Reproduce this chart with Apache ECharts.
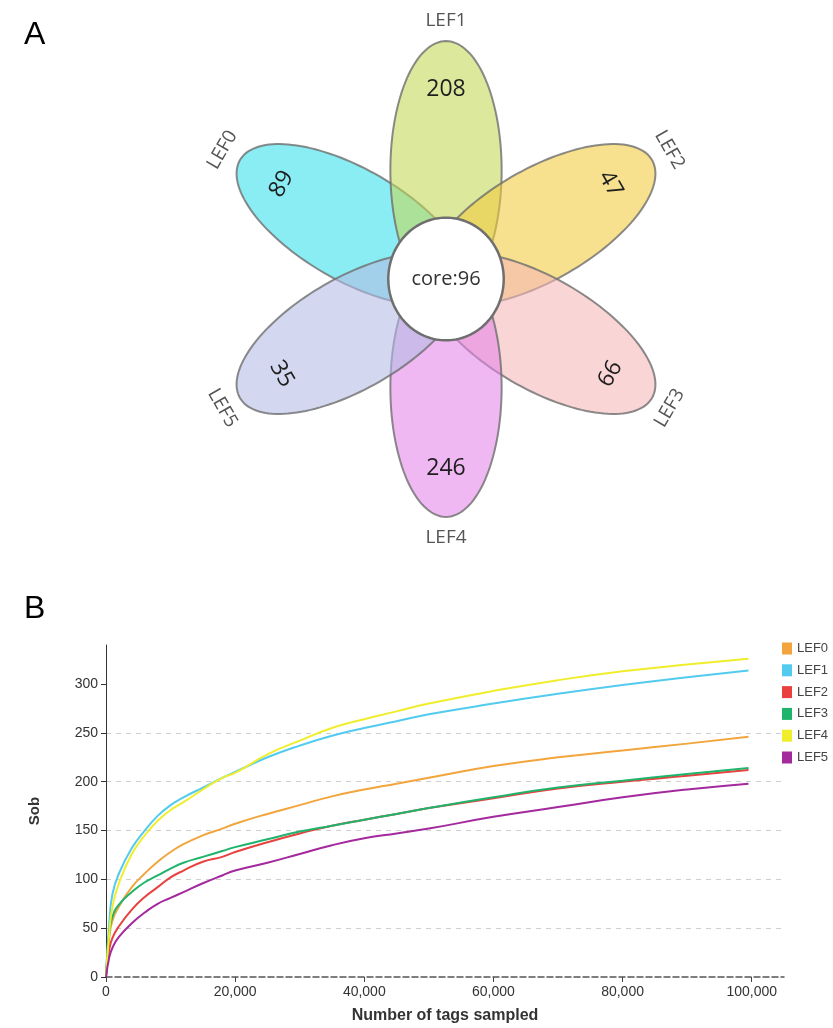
<!DOCTYPE html>
<html><head><meta charset="utf-8">
<script src="https://cdn.jsdelivr.net/npm/echarts@6.0.0/dist/echarts.min.js"></script>
<style>html,body{margin:0;padding:0;background:#fff}#c{width:833px;height:1028px}</style>
</head><body><div id="c"></div>
<script>
// ---------- Panel A: flower (petal) diagram ----------
const groups = ['LEF0', 'LEF1', 'LEF2', 'LEF3', 'LEF4', 'LEF5'];
const uniqueCounts = [89, 208, 47, 66, 246, 35];
const coreCount = 96;
const petalColors = ['rgba(53,224,236,0.58)', 'rgba(195,217,87,0.58)', 'rgba(242,201,60,0.58)',
                     'rgba(245,182,182,0.58)', 'rgba(228,132,233,0.58)', 'rgba(180,187,230,0.58)'];

// ---------- Panel B: rarefaction curves ----------
const tagsSampled = [0, 500, 1000, 2000, 4000, 6000, 8000, 10000, 12000, 15000, 18000, 20000,
                     25000, 30000, 35000, 40000, 45000, 50000, 60000, 70000, 80000, 90000, 99500];
const sobLEF0 = [0, 40, 58, 72, 92, 106, 118, 128, 136, 145, 152, 157, 167, 176, 185, 192, 198, 204, 216, 225, 232, 239, 246];
const sobLEF1 = [0, 55, 85, 106, 132, 150, 165, 176, 184, 194, 204, 210, 225, 237, 247, 255, 262, 269, 280, 290, 299, 307, 314];
const sobLEF2 = [0, 28, 40, 52, 69, 82, 92, 102, 109, 118, 123, 128, 138, 147, 155, 161, 167, 173, 183, 193, 200, 206, 212];
const sobLEF3 = [0, 45, 62, 74, 87, 97, 104, 111, 117, 123, 129, 133, 141, 149, 155, 161, 167, 173, 184, 194, 201, 208, 214];
const sobLEF4 = [0, 45, 72, 96, 126, 145, 160, 171, 179, 192, 204, 209, 228, 242, 255, 264, 272, 280, 293, 304, 313, 320, 326];
const sobLEF5 = [0, 20, 30, 41, 55, 66, 75, 81, 87, 96, 104, 109, 117, 126, 135, 142, 147, 152, 164, 174, 184, 192, 198];
const lineColors = ['#F2A53C', '#52CBEF', '#E8413F', '#1FB36B', '#F0EE2C', '#A3299D'];
const xTicks = [0, 20000, 40000, 60000, 80000, 100000];
const yTicks = [0, 50, 100, 150, 200, 250, 300];

const sobSeries = [sobLEF0, sobLEF1, sobLEF2, sobLEF3, sobLEF4, sobLEF5];

// layout constants (data units of the hidden flower axes, 1 unit = 260 px)
const PETAL_OFFSET = 0.418, PETAL_A = 0.497, PETAL_B = 0.214;
const NUM_R = 0.73, LAB_R = 0.993;
const CORE_RX = 0.222, CORE_RY = 0.236;
const FONT_A = '"Open Sans", "Noto Sans", sans-serif';
const FONT_B = '"Liberation Sans Narrow", "Arial Narrow", "Liberation Sans", Arial, sans-serif';

function ellipsePoints(api, cx, cy, a, b, th) {
  const pts = [];
  const n = 144;
  for (let k = 0; k < n; k++) {
    const t = k / n * 2 * Math.PI;
    const lx = a * Math.cos(t), ly = b * Math.sin(t);
    pts.push(api.coord([cx + lx * Math.cos(th) - ly * Math.sin(th),
                        cy + lx * Math.sin(th) + ly * Math.cos(th)]));
  }
  return pts;
}

function petalItem(params, api) {
  const i = api.value(0);
  const count = api.value(1);
  const deg = 150 - 60 * i;
  const th = deg * Math.PI / 180;
  const cx = PETAL_OFFSET * Math.cos(th), cy = PETAL_OFFSET * Math.sin(th);
  let rot = deg - 90;
  while (rot <= -90) rot += 180;
  while (rot > 90) rot -= 180;
  const r = rot * Math.PI / 180;
  const numPt = api.coord([NUM_R * Math.cos(th), NUM_R * Math.sin(th)]);
  const labPt = api.coord([LAB_R * Math.cos(th), LAB_R * Math.sin(th)]);
  return {
    type: 'group',
    children: [
      { type: 'polygon', shape: { points: ellipsePoints(api, cx, cy, PETAL_A, PETAL_B, th) },
        style: { fill: petalColors[i], stroke: 'rgba(110,110,110,0.8)', lineWidth: 2 } },
      { type: 'text', x: numPt[0], y: numPt[1], rotation: r,
        style: { text: String(count), fill: '#1e1e1e', fontSize: 23, fontFamily: FONT_A,
                 align: 'center', verticalAlign: 'middle' } },
      { type: 'text', x: labPt[0], y: labPt[1], rotation: r,
        style: { text: groups[i], fill: '#555', fontSize: 19, fontFamily: FONT_A,
                 align: 'center', verticalAlign: 'middle' } }
    ]
  };
}

function coreItem(params, api) {
  const v = api.value(2);
  const c = api.coord([0, 0]);
  return {
    type: 'group',
    children: [
      { type: 'polygon', shape: { points: ellipsePoints(api, 0, 0, CORE_RX, CORE_RY, 0) },
        style: { fill: '#fff', stroke: '#6f6f6f', lineWidth: 2.5 } },
      { type: 'text', x: c[0], y: c[1],
        style: { text: 'core:' + v, fill: '#333', fontSize: 20, fontFamily: FONT_A,
                 align: 'center', verticalAlign: 'middle' } }
    ]
  };
}

const chart = echarts.init(document.getElementById('c'), null, { renderer: 'canvas' });

const lineSeries = groups.map((g, i) => ({
  name: g,
  type: 'line',
  xAxisIndex: 1, yAxisIndex: 1,
  data: tagsSampled.map((x, k) => [x, sobSeries[i][k]]),
  showSymbol: false,
  smooth: 0.5,
  color: lineColors[i],
  lineStyle: { width: 2, color: lineColors[i] },
  z: 3
}));

chart.setOption({
  animation: false,
  backgroundColor: '#fff',
  title: [
    { text: 'A', left: 19, top: 14, textStyle: { fontSize: 32, fontWeight: 'normal', color: '#000', fontFamily: FONT_B } },
    { text: 'B', left: 19, top: 588, textStyle: { fontSize: 32, fontWeight: 'normal', color: '#000', fontFamily: FONT_B } }
  ],
  legend: {
    data: groups,
    orient: 'vertical',
    left: 777, top: 637,
    itemWidth: 10, itemHeight: 12, itemGap: 8.8,
    icon: 'rect',
    textStyle: { fontSize: 13, color: '#444', fontFamily: FONT_B }
  },
  grid: [
    { left: 186, top: 19, width: 520, height: 520 },
    { left: 106, top: 645, width: 678, height: 332 }
  ],
  xAxis: [
    { gridIndex: 0, type: 'value', min: -1, max: 1, show: false },
    { gridIndex: 1, type: 'value', min: 0, max: 105000, interval: 20000,
      name: 'Number of tags sampled', nameLocation: 'middle', nameGap: 31,
      nameTextStyle: { fontSize: 16, fontWeight: 'bold', color: '#333', fontFamily: FONT_B },
      axisLine: { show: true, lineStyle: { color: '#555', type: 'dashed', width: 1.5 } },
      axisTick: { show: true, length: 5, customValues: xTicks, lineStyle: { color: '#444' } },
      axisLabel: { customValues: xTicks, fontSize: 14, color: '#333', margin: 8, fontFamily: FONT_B,
                   formatter: v => Number(v).toLocaleString('en-US') },
      splitLine: { show: false } }
  ],
  yAxis: [
    { gridIndex: 0, type: 'value', min: -1, max: 1, show: false },
    { gridIndex: 1, type: 'value', min: 0, max: 340, interval: 50,
      name: 'Sob', nameLocation: 'middle', nameGap: 64,
      nameTextStyle: { fontSize: 15, fontWeight: 'bold', color: '#333', fontFamily: FONT_B },
      axisLine: { show: true, lineStyle: { color: '#333', width: 1 } },
      axisTick: { show: true, length: 5, customValues: yTicks, lineStyle: { color: '#333' } },
      axisLabel: { customValues: yTicks, fontSize: 14, color: '#333', margin: 8, fontFamily: FONT_B },
      splitLine: { show: true, showMinLine: false, showMaxLine: false,
                   lineStyle: { color: '#cfcfcf', type: [5, 5], width: 1 } } }
  ],
  series: [
    { type: 'custom', name: 'petals', xAxisIndex: 0, yAxisIndex: 0,
      data: groups.map((g, i) => [i, uniqueCounts[i]]),
      renderItem: petalItem, z: 2, silent: true },
    { type: 'custom', name: 'core', xAxisIndex: 0, yAxisIndex: 0,
      data: [[0, 0, coreCount]],
      renderItem: coreItem, z: 4, silent: true }
  ].concat(lineSeries)
});
</script>
</body></html>
